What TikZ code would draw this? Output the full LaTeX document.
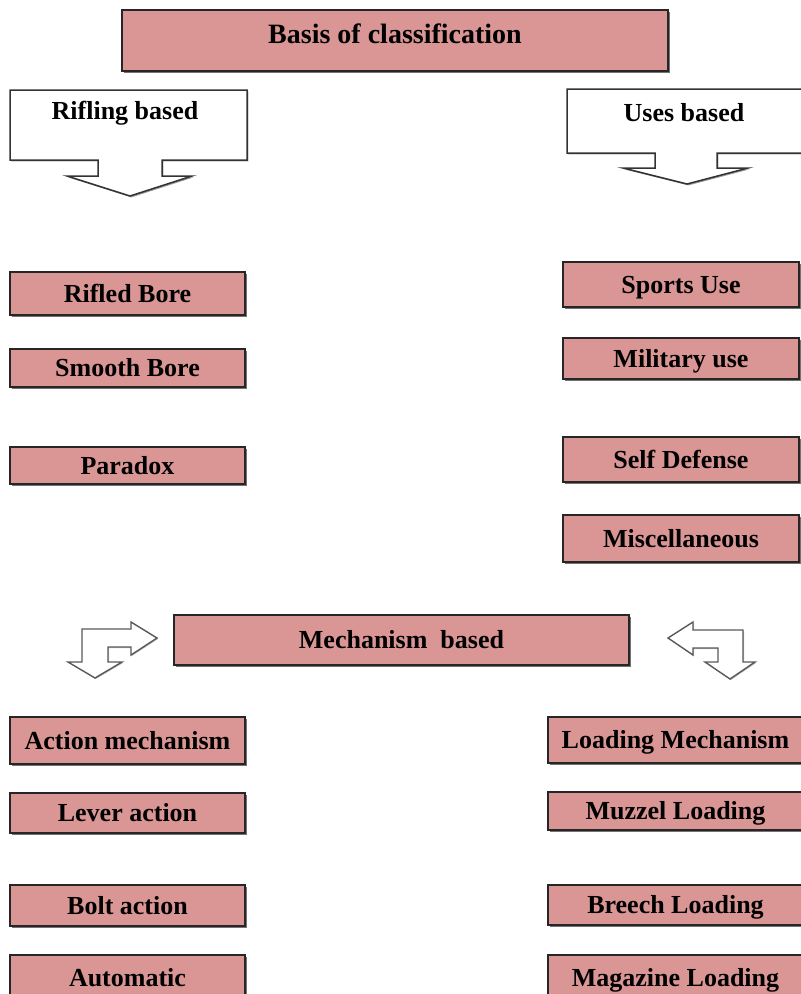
\documentclass[tikz,border=0pt]{standalone}
\usepackage{fontspec}
\setmainfont{Liberation Serif}
\usetikzlibrary{shadows}

\definecolor{boxpink}{RGB}{217,150,148}
\newcommand\boxfont{\fontsize{26}{30}\selectfont\bfseries}

\tikzset{
	catbox/.style={draw=black!85, line width=1.3pt, fill=boxpink, inner sep=0pt,
		text height=20pt, text depth=3pt,
		font=\boxfont, drop shadow={shadow xshift=1.6pt, shadow yshift=-1.8pt, opacity=.55, fill=black}},
	headarrow/.style={draw=black!80, line width=1.5pt, fill=white, line join=miter,
		drop shadow={shadow xshift=1.4pt, shadow yshift=-1.4pt, opacity=.4, fill=black}},
	bentarrow/.style={draw=black!65, line width=1.4pt, fill=white, line join=miter,
		drop shadow={shadow xshift=1pt, shadow yshift=-1pt, opacity=.25, fill=black}}
}

\begin{document}
\begin{tikzpicture}[x=1pt, y=-1pt]
		%page frame
		\useasboundingbox (0,0) rectangle (801,994);
		
		%definition of column widths
		\def\lW{235};
		\def\rW{236};
		\def\rrW{255};
		
		%top box
		\node[catbox, minimum width=546pt, minimum height=61pt,
			label={[font=\fontsize{28}{32}\selectfont\bfseries, yshift=7pt]center:Basis of classification}]
			(basis) at (395,40.5) {};
		
		%rifling callout
		\draw[headarrow] (10,90) -- (247,90) -- (247,160) -- (162,160) -- (162,176) -- (192,176)
			-- (130,196) -- (67,176) -- (98,176) -- (98,160) -- (10,160) -- cycle;
		\node[font=\boxfont] (rifling) at (125,113) {Rifling based};
		
		%uses callout
		\draw[headarrow] (567,89) -- (812,89) -- (812,153) -- (717,153) -- (717,168) -- (748,168)
			-- (687,184) -- (623,168) -- (655,168) -- (655,153) -- (567,153) -- cycle;
		\node[font=\boxfont] (uses) at (684,113) {Uses based};
		
		%rifling boxes
		\node[catbox, minimum width=\lW pt, minimum height=43pt] (rifled) at (127.5,293.5) {Rifled Bore};
		\node[catbox, minimum width=\lW pt, minimum height=38pt] (smooth) at (127.5,368) {Smooth Bore};
		\node[catbox, minimum width=\lW pt, minimum height=37pt] (paradox) at (127.5,465.5) {Paradox};
		
		%uses boxes
		\node[catbox, minimum width=\rW pt, minimum height=45pt] (sports) at (681,284.5) {Sports Use};
		\node[catbox, minimum width=\rW pt, minimum height=41pt] (military) at (681,358.5) {Military use};
		\node[catbox, minimum width=\rW pt, minimum height=45pt] (selfdef) at (681,459.5) {Self Defense};
		\node[catbox, minimum width=\rW pt, minimum height=47pt] (misc) at (681,538.5) {Miscellaneous};
		
		%mechanism box
		\node[catbox, minimum width=455pt, minimum height=50pt] (mech) at (401.5,640) {Mechanism\ \ based};
		
		%bent arrows
		\draw[bentarrow] (82,629) -- (131,629) -- (131,622) -- (157,638) -- (131,655) -- (131,647)
			-- (108,647) -- (108,662) -- (122,662) -- (95,678) -- (68,662) -- (82,662) -- cycle;
		\draw[bentarrow] (743,630) -- (693,630) -- (693,622) -- (668,638) -- (693,655) -- (693,648)
			-- (718,648) -- (718,662) -- (705,662) -- (730,679) -- (755,662) -- (743,662) -- cycle;
		
		%action boxes
		\node[catbox, minimum width=\lW pt, minimum height=47pt] (action) at (127.5,740.5) {Action mechanism};
		\node[catbox, minimum width=\lW pt, minimum height=40pt] (lever) at (127.5,813) {Lever action};
		\node[catbox, minimum width=\lW pt, minimum height=41pt] (bolt) at (127.5,905.5) {Bolt action};
		\node[catbox, minimum width=\lW pt, minimum height=45pt] (automatic) at (127.5,977.5) {Automatic};
		
		%loading boxes
		\node[catbox, minimum width=\rrW pt, minimum height=46pt] (loading) at (675.5,740) {Loading Mechanism};
		\node[catbox, minimum width=\rrW pt, minimum height=38pt] (muzzel) at (675.5,811) {Muzzel Loading};
		\node[catbox, minimum width=\rrW pt, minimum height=40pt] (breech) at (675.5,905) {Breech Loading};
		\node[catbox, minimum width=\rrW pt, minimum height=45pt] (magazine) at (675.5,977.5) {Magazine Loading};
		
	\end{tikzpicture}
\end{document}
